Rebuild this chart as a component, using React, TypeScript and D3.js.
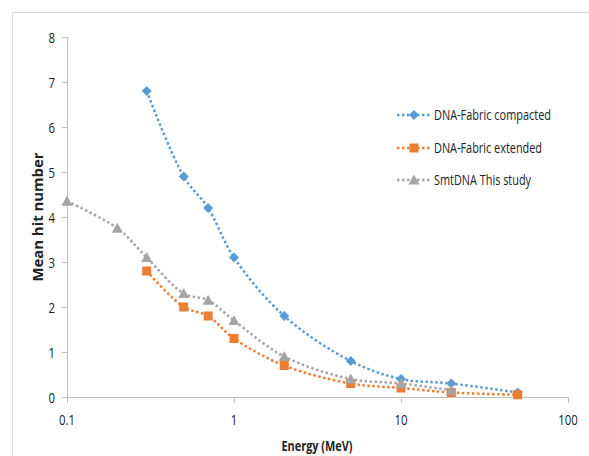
import React from "react";
import * as d3 from "d3";

const energies = [0.3, 0.5, 0.7, 1, 2, 5, 10, 20, 50];
const compacted = [6.8, 4.9, 4.2, 3.1, 1.8, 0.8, 0.4, 0.3, 0.1];
const extended = [2.8, 2.0, 1.8, 1.3, 0.7, 0.3, 0.2, 0.1, 0.05];
const smtEnergies = [0.1, 0.2, 0.3, 0.5, 0.7, 1, 2, 5, 10, 20];
const smt = [4.35, 3.75, 3.1, 2.3, 2.15, 1.7, 0.9, 0.4, 0.3, 0.15];
const yTicks = [0, 1, 2, 3, 4, 5, 6, 7, 8];
const xTicks = [0.1, 1, 10, 100];
const seriesNames = ["DNA-Fabric compacted", "DNA-Fabric extended", "SmtDNA This study"];
const legendWidths = [117, 108, 97];
const colors = ["#5b9bd5", "#ed7d31", "#a5a5a5"];

const W = 589, H = 456;
const x = d3.scaleLog().domain([0.1, 100]).range([67, 568]);
const y = d3.scaleLinear().domain([0, 8]).range([397, 37]);
const font = "'Open Sans', 'Liberation Sans', sans-serif";

function numWidth(s: string) {
  let w = 0;
  for (const c of s) w += c === "." ? 3 : 6.5;
  return w;
}

function marker(kind: number, cx: number, cy: number, color: string, key: string) {
  if (kind === 0) {
    const r = 5;
    return <path key={key} d={`M${cx},${cy - r}L${cx + r},${cy}L${cx},${cy + r}L${cx - r},${cy}Z`} fill={color} />;
  }
  if (kind === 1) {
    const s = 9;
    return <rect key={key} x={cx - s / 2} y={cy - s / 2} width={s} height={s} fill={color} />;
  }
  const r = 5.5;
  return <path key={key} d={`M${cx},${cy - r}L${cx + r},${cy + r * 0.8}L${cx - r},${cy + r * 0.8}Z`} fill={color} />;
}

export default function App() {
  const line = d3
    .line<[number, number]>()
    .x((d) => x(d[0]))
    .y((d) => y(d[1]))
    .curve(d3.curveCatmullRom.alpha(0.5));
  const series: [number, number][][] = [
    energies.map((e, i) => [e, compacted[i]]),
    energies.map((e, i) => [e, extended[i]]),
    smtEnergies.map((e, i) => [e, smt[i]]),
  ];
  const legendY = [115, 148, 180];
  return (
    <svg width={W} height={H} style={{ display: "block", position: "absolute", left: 0, top: 0 }}>
      <rect x={0} y={0} width={W} height={H} fill="#fff" />
      <path d={`M12.5,${H}V12.5H${W}`} fill="none" stroke="#d9d9d9" strokeWidth={1} />
      {/* axes */}
      <line x1={67.5} x2={67.5} y1={y(8)} y2={y(0)} stroke="#bfbfbf" />
      <line x1={67} x2={568} y1={397.5} y2={397.5} stroke="#bfbfbf" />
      {yTicks.map((t) => (
        <g key={"y" + t}>
          <line x1={62} x2={67} y1={Math.round(y(t)) + 0.5} y2={Math.round(y(t)) + 0.5} stroke="#bfbfbf" />
          <text
            x={55}
            y={y(t) + 5.5}
            textAnchor="end"
            fontFamily={font}
            fontSize={15}
            fill="#222"
            textLength={numWidth(String(t))}
            lengthAdjust="spacingAndGlyphs"
          >
            {t}
          </text>
        </g>
      ))}
      {xTicks.map((t) => (
        <g key={"x" + t}>
          <line x1={Math.round(x(t)) + 0.5} x2={Math.round(x(t)) + 0.5} y1={397} y2={403} stroke="#bfbfbf" />
          <text
            x={x(t)}
            y={425}
            textAnchor="middle"
            fontFamily={font}
            fontSize={15}
            fill="#222"
            textLength={numWidth(String(t))}
            lengthAdjust="spacingAndGlyphs"
          >
            {t}
          </text>
        </g>
      ))}
      <text
        x={317}
        y={451}
        textAnchor="middle"
        fontFamily={font}
        fontSize={15}
        fontWeight="bold"
        fill="#222"
        textLength={71}
        lengthAdjust="spacingAndGlyphs"
      >
        Energy (MeV)
      </text>
      <text
        transform="translate(43,217) rotate(-90)"
        textAnchor="middle"
        fontFamily={font}
        fontSize={15}
        fontWeight="bold"
        fill="#222"
        textLength={129}
        lengthAdjust="spacingAndGlyphs"
      >
        Mean hit number
      </text>
      {/* lines */}
      {series.map((s, i) => (
        <path
          key={"l" + i}
          d={line(s) || ""}
          fill="none"
          stroke={colors[i]}
          strokeWidth={2.5}
          strokeDasharray="2.5 2.5"
        />
      ))}
      {series.map((s, i) => s.map((d, j) => marker(i, x(d[0]), y(d[1]), colors[i], `m${i}-${j}`)))}
      {/* legend */}
      {seriesNames.map((n, i) => (
        <g key={"lg" + i}>
          <line x1={397} x2={431} y1={legendY[i]} y2={legendY[i]} stroke={colors[i]} strokeWidth={2.5} strokeDasharray="2.5 2.5" />
          {marker(i, 414, legendY[i], colors[i], "lm" + i)}
          <text
            x={434}
            y={legendY[i] + 5}
            fontFamily={font}
            fontSize={14.5}
            fill="#222"
            textLength={legendWidths[i]}
            lengthAdjust="spacingAndGlyphs"
          >
            {n}
          </text>
        </g>
      ))}
    </svg>
  );
}
